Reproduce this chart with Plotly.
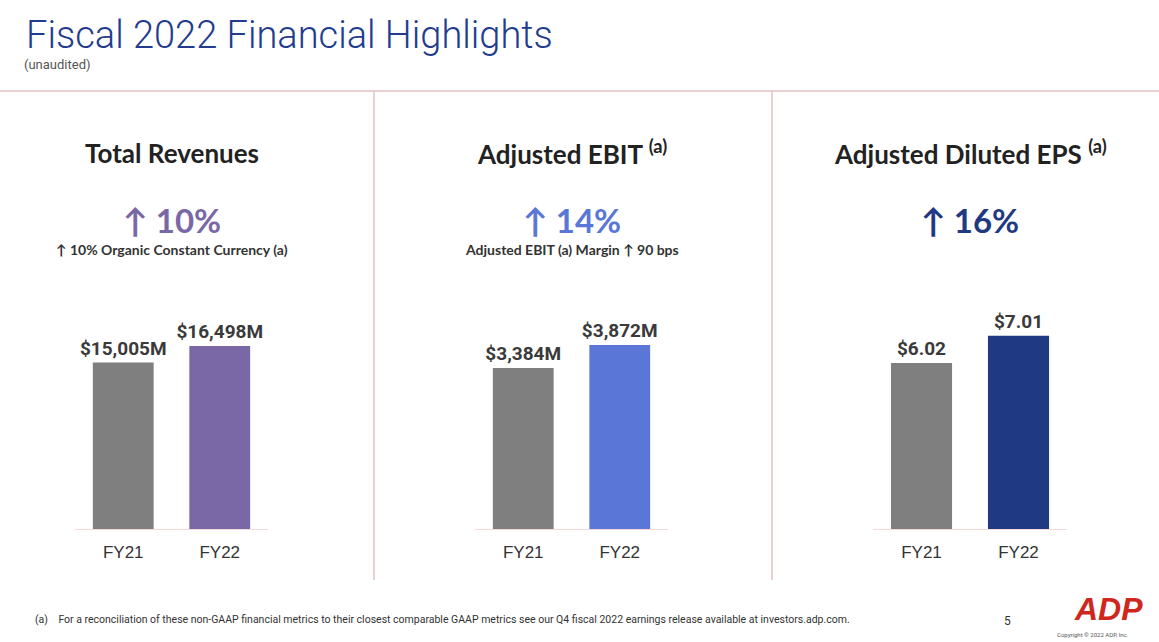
import plotly.graph_objects as go

W, H = 1159, 642

# data
years = ["FY21", "FY22"]
revenues = [15005, 16498]
ebit = [3384, 3872]
eps = [6.02, 7.01]
revenue_labels = ["$15,005M", "$16,498M"]
ebit_labels = ["$3,384M", "$3,872M"]
eps_labels = ["$6.02", "$7.01"]

panel_titles = ["Total Revenues", "Adjusted EBIT <sup>(a)</sup>", "Adjusted Diluted EPS <sup>(a)</sup>"]
growth = ["↑ 10%", "↑ 14%", "↑ 16%"]
growth_notes = ["↑ 10% Organic Constant Currency (a)", "Adjusted EBIT (a) Margin ↑ 90 bps", ""]

GRAY = "#7f7f7f"
colors = ["#7a68a6", "#5a76d6", "#1f3a82"]
NAVY = "#223b8f"
LINE = "#e2c2c2"


def px_x(x):
    return x / W


def px_y(y):
    return 1 - y / H


domains = [(75, 268), (475, 668), (873, 1067)]
ranges = [20650, 4816, 8.31]
series = [revenues, ebit, eps]
labels = [revenue_labels, ebit_labels, eps_labels]

fig = go.Figure()
annotations = []
for i in range(3):
    n = "" if i == 0 else str(i + 1)
    fig.add_trace(go.Bar(
        x=years, y=series[i], text=labels[i], textposition="outside",
        constraintext="none",
        marker=dict(color=[GRAY, colors[i]], line=dict(width=0)),
        textfont=dict(family="Roboto", size=19, color="#3a3a3a", weight="bold"),
        cliponaxis=False, hoverinfo="skip",
        xaxis="x" + n, yaxis="y" + n, showlegend=False,
    ))
    d0, d1 = domains[i]
    fig.update_layout(**{
        "xaxis" + n: dict(domain=[px_x(d0), px_x(d1)], anchor="y" + n,
                          showline=True, linecolor="#f3d9d9", linewidth=1,
                          showgrid=False, ticks="outside", ticklen=8,
                          tickcolor="rgba(0,0,0,0)",
                          tickfont=dict(family="Liberation Sans", size=17, color="#333333")),
        "yaxis" + n: dict(domain=[px_y(529), px_y(300)], anchor="x" + n,
                          range=[0, ranges[i]], visible=False),
    })
    cx = px_x((d0 + d1) / 2)
    annotations.append(dict(x=cx, y=px_y(153), text="<b>" + panel_titles[i] + "</b>",
                            font=dict(family="Lato", size=26, color="#222222")))
    annotations.append(dict(x=cx, y=px_y(220), text="<b>" + growth[i] + "</b>",
                            font=dict(family="Lato", size=33, color=colors[i])))
    if growth_notes[i]:
        annotations.append(dict(x=cx, y=px_y(250), text="<b>" + growth_notes[i] + "</b>",
                                font=dict(family="Lato", size=14, color="#333333")))

for a in annotations:
    a.update(xref="paper", yref="paper", showarrow=False, xanchor="center", yanchor="middle")

annotations += [
    dict(x=px_x(24), y=px_y(35), text="Fiscal 2022 Financial Highlights",
         font=dict(family="Roboto", size=38, color=NAVY, weight=300)),
    dict(x=px_x(22), y=px_y(65), text="(unaudited)",
         font=dict(family="Roboto", size=13, color="#555555")),
    dict(x=px_x(33), y=px_y(619),
         text="(a)    For a reconciliation of these non-GAAP financial metrics to their closest comparable "
              "GAAP metrics see our Q4 fiscal 2022 earnings release available at investors.adp.com.",
         font=dict(family="Roboto", size=10.5, color="#333333")),
    dict(x=px_x(1002), y=px_y(621), text="5",
         font=dict(family="Roboto", size=12, color="#333333")),
    dict(x=px_x(1072), y=px_y(609), text="<b><i>ADP</i></b>",
         font=dict(family="Liberation Sans", size=32, color="#d0271d")),
    dict(x=px_x(1055), y=px_y(634), text="Copyright © 2022 ADP, Inc.",
         font=dict(family="Roboto", size=6, color="#555555")),
]
for a in annotations[-6:]:
    a.update(xref="paper", yref="paper", showarrow=False, xanchor="left", yanchor="middle")

shapes = [
    dict(type="line", xref="paper", yref="paper", x0=0, x1=1, y0=px_y(91), y1=px_y(91),
         line=dict(color=LINE, width=1.5)),
    dict(type="line", xref="paper", yref="paper", x0=px_x(374), x1=px_x(374),
         y0=px_y(91), y1=px_y(580), line=dict(color=LINE, width=1.5)),
    dict(type="line", xref="paper", yref="paper", x0=px_x(772), x1=px_x(772),
         y0=px_y(91), y1=px_y(580), line=dict(color=LINE, width=1.5)),
]

fig.update_layout(
    width=W, height=H, margin=dict(l=0, r=0, t=0, b=0),
    paper_bgcolor="white", plot_bgcolor="white",
    bargap=0.37, annotations=annotations, shapes=shapes,
)

# the page has a default 8px body margin; drop it so the figure fills the window
fig.write_html("out.html", config={"displayModeBar": False},
               post_script="document.body.style.margin='0px';")
